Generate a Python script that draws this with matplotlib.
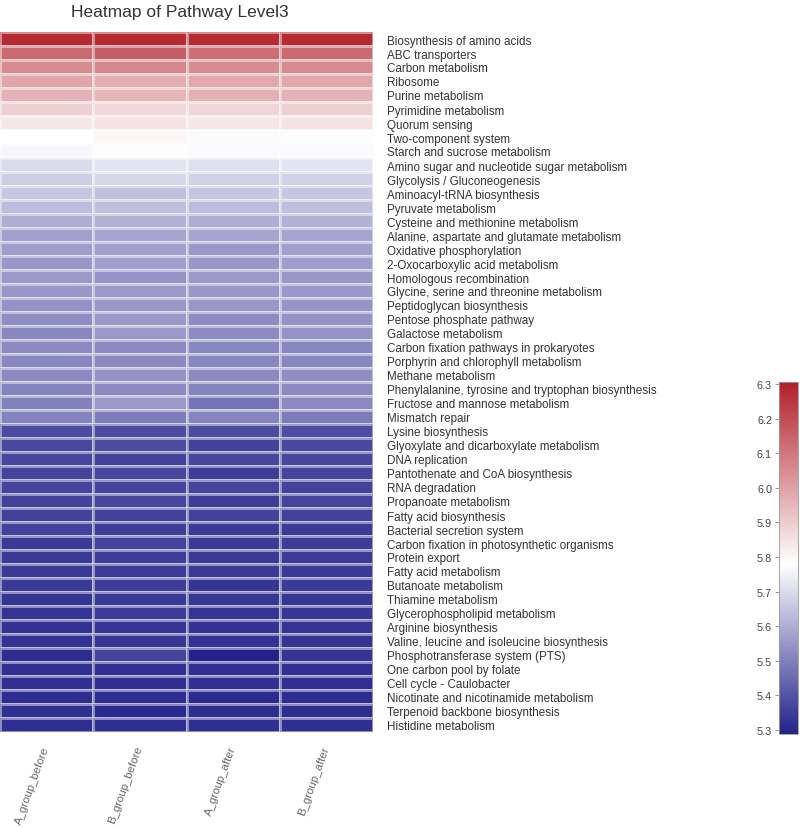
import matplotlib
matplotlib.use("Agg")
import matplotlib.pyplot as plt
import numpy as np
from matplotlib.colors import LinearSegmentedColormap, Normalize

# pathway rows, top to bottom
pathways = [
    "Biosynthesis of amino acids", "ABC transporters", "Carbon metabolism",
    "Ribosome", "Purine metabolism", "Pyrimidine metabolism", "Quorum sensing",
    "Two-component system", "Starch and sucrose metabolism",
    "Amino sugar and nucleotide sugar metabolism", "Glycolysis / Gluconeogenesis",
    "Aminoacyl-tRNA biosynthesis", "Pyruvate metabolism",
    "Cysteine and methionine metabolism", "Alanine, aspartate and glutamate metabolism",
    "Oxidative phosphorylation", "2-Oxocarboxylic acid metabolism",
    "Homologous recombination", "Glycine, serine and threonine metabolism",
    "Peptidoglycan biosynthesis", "Pentose phosphate pathway",
    "Galactose metabolism", "Carbon fixation pathways in prokaryotes",
    "Porphyrin and chlorophyll metabolism", "Methane metabolism",
    "Phenylalanine, tyrosine and tryptophan biosynthesis",
    "Fructose and mannose metabolism", "Mismatch repair", "Lysine biosynthesis",
    "Glyoxylate and dicarboxylate metabolism", "DNA replication",
    "Pantothenate and CoA biosynthesis", "RNA degradation",
    "Propanoate metabolism", "Fatty acid biosynthesis",
    "Bacterial secretion system", "Carbon fixation in photosynthetic organisms",
    "Protein export", "Fatty acid metabolism", "Butanoate metabolism",
    "Thiamine metabolism", "Glycerophospholipid metabolism",
    "Arginine biosynthesis", "Valine, leucine and isoleucine biosynthesis",
    "Phosphotransferase system (PTS)", "One carbon pool by folate",
    "Cell cycle - Caulobacter", "Nicotinate and nicotinamide metabolism",
    "Terpenoid backbone biosynthesis", "Histidine metabolism",
]

groups = ["A_group_before", "B_group_before", "A_group_after", "B_group_after"]

a_before = [6.28, 6.13, 6.05, 5.99, 5.96, 5.89, 5.84, 5.78, 5.765, 5.70,
            5.67, 5.655, 5.63, 5.60, 5.57, 5.565, 5.55, 5.555, 5.55, 5.54,
            5.53, 5.515, 5.52, 5.515, 5.52, 5.505, 5.50, 5.505, 5.38, 5.375,
            5.37, 5.365, 5.365, 5.362, 5.36, 5.36, 5.345, 5.34, 5.34, 5.34,
            5.33, 5.33, 5.325, 5.325, 5.315, 5.32, 5.32, 5.315, 5.32, 5.318]
b_before = [6.28, 6.16, 6.06, 5.97, 5.955, 5.87, 5.845, 5.80, 5.775, 5.72,
            5.69, 5.64, 5.635, 5.61, 5.58, 5.57, 5.57, 5.54, 5.555, 5.55,
            5.555, 5.555, 5.52, 5.52, 5.54, 5.52, 5.555, 5.49, 5.38, 5.38,
            5.36, 5.37, 5.367, 5.37, 5.36, 5.35, 5.36, 5.35, 5.345, 5.35,
            5.34, 5.345, 5.33, 5.335, 5.365, 5.32, 5.318, 5.315, 5.305, 5.318]
a_after = [6.28, 6.12, 6.05, 5.98, 5.965, 5.88, 5.84, 5.77, 5.77, 5.71,
           5.68, 5.655, 5.63, 5.60, 5.58, 5.555, 5.55, 5.555, 5.55, 5.55,
           5.525, 5.525, 5.518, 5.515, 5.52, 5.51, 5.47, 5.51, 5.38, 5.36,
           5.37, 5.35, 5.365, 5.35, 5.36, 5.34, 5.345, 5.34, 5.34, 5.33,
           5.332, 5.33, 5.325, 5.325, 5.29, 5.32, 5.322, 5.31, 5.315, 5.318]
b_after = [6.28, 6.13, 6.055, 5.985, 5.96, 5.89, 5.845, 5.775, 5.77, 5.715,
           5.68, 5.655, 5.635, 5.61, 5.58, 5.57, 5.565, 5.55, 5.552, 5.545,
           5.54, 5.54, 5.518, 5.515, 5.53, 5.52, 5.52, 5.49, 5.385, 5.375,
           5.37, 5.367, 5.362, 5.365, 5.362, 5.34, 5.35, 5.345, 5.34, 5.34,
           5.335, 5.332, 5.33, 5.33, 5.33, 5.322, 5.32, 5.315, 5.315, 5.318]

cbar_ticks = [5.3, 5.4, 5.5, 5.6, 5.7, 5.8, 5.9, 6.0, 6.1, 6.2, 6.3]
vmin, vmax, vmid = 5.288, 6.306, 5.78

values = np.column_stack([a_before, b_before, a_after, b_after])

mid_pos = (vmid - vmin) / (vmax - vmin)
cmap = LinearSegmentedColormap.from_list(
    "navy_white_red", [(0.0, "#22228a"), (mid_pos, "#ffffff"), (1.0, "#b2202a")])
norm = Normalize(vmin=vmin, vmax=vmax)

fig = plt.figure(figsize=(8.0, 8.29), dpi=100)
ax = fig.add_axes([0.0, 1 - 733 / 829, 373 / 800, 700 / 829])

mesh = ax.pcolormesh(values, cmap=cmap, norm=norm,
                     edgecolors=(1, 1, 1, 0.45), linewidth=0.75)
ax.set_xlim(0, len(groups))
ax.set_ylim(len(pathways), 0)
for s in ax.spines.values():
    s.set_visible(False)

ax.yaxis.tick_right()
ax.set_yticks(np.arange(len(pathways)) + 0.5)
ax.set_yticklabels(pathways, fontsize=8.4, color="#333333",
                   family="Liberation Sans")
ax.tick_params(axis="y", length=0, pad=10)

ax.set_xticks(np.arange(len(groups)) + 0.5)
ax.set_xticklabels(groups, rotation=70, ha="right", va="center",
                   rotation_mode="anchor", fontsize=8.2, color="#666666",
                   family="Liberation Sans")
ax.tick_params(axis="x", length=0, pad=10)

fig.text(180 / 800, 1 - 13 / 829, "Heatmap of Pathway Level3",
         ha="center", va="center", fontsize=12.5, color="#333333",
         family="Liberation Sans")

cax = fig.add_axes([779 / 800, 1 - 735 / 829, 19 / 800, 352 / 829])
cb = fig.colorbar(mesh, cax=cax, ticks=cbar_ticks)
cb.outline.set_edgecolor("#999999")
cb.outline.set_linewidth(0.6)
cax.yaxis.set_ticks_position("left")
cax.tick_params(axis="y", length=3, width=0.6, color="#888888",
                labelsize=7.8, labelcolor="#444444", pad=2)
for lbl in cax.get_yticklabels():
    lbl.set_family("Liberation Sans")

fig.savefig("out.png", dpi=100)
